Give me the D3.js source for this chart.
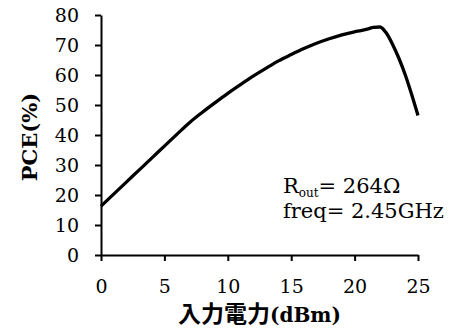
<!DOCTYPE html>
<html>
<head>
<meta charset="utf-8">
<script src="https://cdn.jsdelivr.net/npm/d3@7"></script>
<style>
  body { margin: 0; background: #fff; }
  text { font-family: "DejaVu Serif", "Noto Sans CJK JP", serif; fill: #000; }
</style>
</head>
<body>
<script>
'use strict';
// input power (dBm) vs PCE (%)
const powerDbm = [0, 1, 2, 3, 4, 5, 6, 7, 8, 9, 10, 11, 12, 13, 14, 15, 16, 17, 18, 19, 20, 20.5, 21, 21.5, 22, 22.5, 23, 23.5, 24, 24.5, 25];
const pce = [16.3, 20.3, 24.3, 28.3, 32.3, 36.3, 40.3, 44.2, 47.6, 50.8, 53.9, 56.8, 59.6, 62.2, 64.7, 66.8, 68.8, 70.6, 72.1, 73.4, 74.4, 74.8, 75.3, 75.9, 76.0, 74.0, 70.2, 65.5, 60.0, 53.5, 46.5];
const xTicks = [0, 5, 10, 15, 20, 25];
const yTicks = [0, 10, 20, 30, 40, 50, 60, 70, 80];
const xLabel = ['入力電力', '(dBm)'];
const yLabel = 'PCE(%)';
const noteLines = ['R', 'out', '= 264Ω', 'freq= 2.45GHz'];

(function() {
    let dims = { width: 452, height: 333, left: 101, right: 418, top: 15, bottom: 255 };

    let svg = d3.select('body').append('svg')
                .attr('width', dims.width)
                .attr('height', dims.height);

    let x = d3.scaleLinear().domain([0, 25]).range([dims.left, dims.right]);
    let y = d3.scaleLinear().domain([0, 80]).range([dims.bottom, dims.top]);

    let xAxis = svg.append('g')
        .attr('transform', 'translate(0,' + dims.bottom + ')')
        .call(d3.axisBottom(x).tickValues(xTicks).tickSize(6).tickSizeOuter(0).tickPadding(19));
    let yAxis = svg.append('g')
        .attr('transform', 'translate(' + dims.left + ',0)')
        .call(d3.axisLeft(y).tickValues(yTicks).tickSize(6).tickSizeOuter(0).tickPadding(16));

    [xAxis, yAxis].forEach((g) => {
        g.attr('font-family', null).attr('font-size', null);
        g.select('.domain').attr('stroke', '#000').attr('stroke-width', 2);
        g.selectAll('.tick line').attr('stroke', '#000').attr('stroke-width', 2);
        g.selectAll('.tick text').style('font-size', '19px');
    });

    let line = d3.line()
        .x((d, i) => x(powerDbm[i]))
        .y((d) => y(d))
        .curve(d3.curveMonotoneX);

    svg.append('path')
        .datum(pce)
        .attr('fill', 'none')
        .attr('stroke', '#000')
        .attr('stroke-width', 3.3)
        .attr('stroke-linejoin', 'round')
        .attr('d', line);

    let xl = svg.append('text')
        .attr('x', (dims.left + dims.right) / 2)
        .attr('y', 322)
        .attr('text-anchor', 'middle')
        .style('font-weight', 'bold');
    xl.append('tspan').style('font-size', '23px').text(xLabel[0]);
    xl.append('tspan').style('font-size', '20px').text(xLabel[1]);

    svg.append('text')
        .attr('transform', 'translate(37,137) rotate(-90)')
        .attr('text-anchor', 'middle')
        .style('font-size', '21px')
        .style('font-weight', 'bold')
        .text(yLabel);

    let note = svg.append('text')
        .attr('x', 283)
        .attr('y', 193)
        .style('font-size', '21px');
    note.append('tspan').text(noteLines[0]);
    note.append('tspan').attr('dy', 4).style('font-size', '12px').text(noteLines[1]);
    note.append('tspan').attr('dy', -4).text(noteLines[2]);

    svg.append('text')
        .attr('x', 283)
        .attr('y', 218)
        .style('font-size', '21px')
        .text(noteLines[3]);
})();
</script>
</body>
</html>
